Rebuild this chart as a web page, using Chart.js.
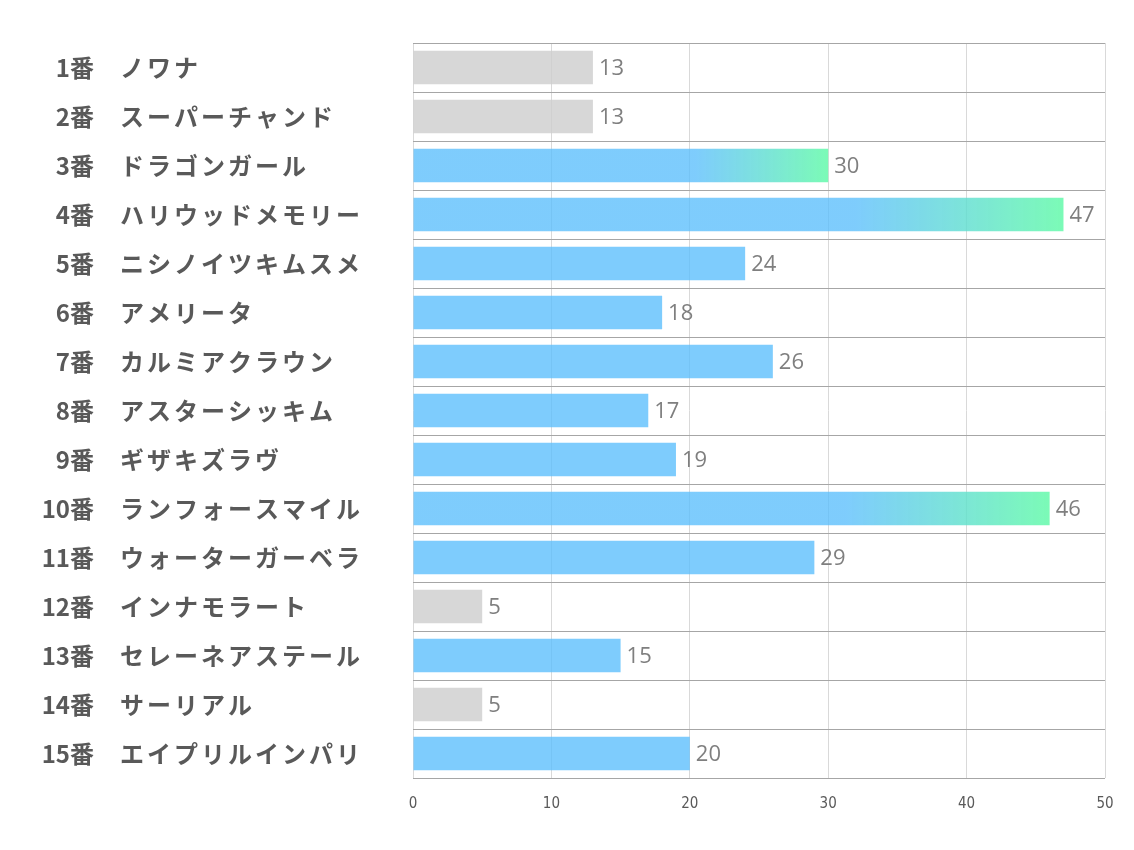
<!DOCTYPE html>
<html>
<head>
<meta charset="utf-8">
<script src="https://cdn.jsdelivr.net/npm/chart.js@4/dist/chart.umd.min.js"></script>
<style>
  html, body { margin: 0; padding: 0; background: #fff; }
</style>
</head>
<body>
<canvas id="voteChart" width="1134" height="850"></canvas>
<script>
// --- Data ---
const horseNumbers = ['1番', '2番', '3番', '4番', '5番', '6番', '7番', '8番', '9番', '10番', '11番', '12番', '13番', '14番', '15番'];
const horseNames = ['ノワナ', 'スーパーチャンド', 'ドラゴンガール', 'ハリウッドメモリー', 'ニシノイツキムスメ', 'アメリータ', 'カルミアクラウン', 'アスターシッキム', 'ギザキズラヴ', 'ランフォースマイル', 'ウォーターガーベラ', 'インナモラート', 'セレーネアステール', 'サーリアル', 'エイプリルインパリ'];
const votes = [13, 13, 30, 47, 24, 18, 26, 17, 19, 46, 29, 5, 15, 5, 20];
// グレー表示の馬
const greyed = [true, true, false, false, false, false, false, false, false, false, false, true, false, true, false];
const xTicks = [0, 10, 20, 30, 40, 50];

const BLUE = 'rgba(90,190,252,0.78)';
const GREEN = 'rgba(100,250,170,0.85)';
const GREY = 'rgba(205,205,205,0.8)';

// --- バーの色 (30以上はグラデーション) ---
function barColor(ctx) {
    const i = ctx.dataIndex;
    if (greyed[i]) return GREY;
    const v = votes[i];
    if (v < 30) return BLUE;
    const xs = ctx.chart.scales.x;
    if (!xs) return BLUE;
    const x0 = xs.getPixelForValue(0);
    const x1 = xs.getPixelForValue(v);
    const g = ctx.chart.ctx.createLinearGradient(x0, 0, x1, 0);
    g.addColorStop(0, BLUE);
    g.addColorStop(0.68, BLUE);
    g.addColorStop(1, GREEN);
    return g;
}

// --- 左側のラベル (番号 + 馬名) ---
const sideLabels = {
    id: 'sideLabels',
    afterDraw(chart) {
        const c = chart.ctx;
        const ys = chart.scales.y;
        c.save();
        c.fillStyle = '#595959';
        c.font = 'bold 24px "Noto Sans CJK JP"';
        c.textBaseline = 'middle';
        horseNumbers.forEach((num, i) => {
            const y = ys.getPixelForValue(i);
            c.letterSpacing = '0px';
            c.textAlign = 'right';
            c.fillText(num, 94, y);
            c.textAlign = 'left';
            c.letterSpacing = '3px';
            c.fillText(horseNames[i], 120, y);
        });
        c.restore();
    }
};

// --- 値ラベル ---
const valueLabels = {
    id: 'valueLabels',
    afterDatasetsDraw(chart) {
        const c = chart.ctx;
        const meta = chart.getDatasetMeta(0);
        c.save();
        c.fillStyle = '#7f7f7f';
        c.font = '22px "Open Sans"';
        c.textAlign = 'left';
        c.textBaseline = 'middle';
        meta.data.forEach((bar, i) => {
            c.fillText(String(votes[i]), bar.x + 6, bar.y + 1);
        });
        c.restore();
    }
};

new Chart(document.getElementById('voteChart'), {
    type: 'bar',
    data: {
        labels: horseNumbers,
        datasets: [{
            data: votes,
            backgroundColor: barColor,
            borderWidth: 0,
            categoryPercentage: 1,
            barPercentage: 0.68
        }]
    },
    options: {
        indexAxis: 'y',
        responsive: false,
        animation: false,
        layout: { padding: { left: 413, right: 29, top: 43, bottom: 20 } },
        plugins: {
            legend: { display: false },
            tooltip: { enabled: false }
        },
        scales: {
            x: {
                min: 0,
                max: 50,
                afterBuildTicks: (axis) => { axis.ticks = xTicks.map(v => ({ value: v })); },
                grid: { color: '#d9d9d9', lineWidth: 1, drawTicks: false },
                border: { display: false },
                ticks: {
                    color: '#595959',
                    font: { family: 'DejaVu Sans Condensed', size: 15 },
                    padding: 17
                }
            },
            y: {
                offset: true,
                grid: { offset: true, color: '#a6a6a6', lineWidth: 1, drawTicks: false },
                border: { display: false },
                ticks: { display: false }
            }
        }
    },
    plugins: [sideLabels, valueLabels]
});
</script>
</body>
</html>
